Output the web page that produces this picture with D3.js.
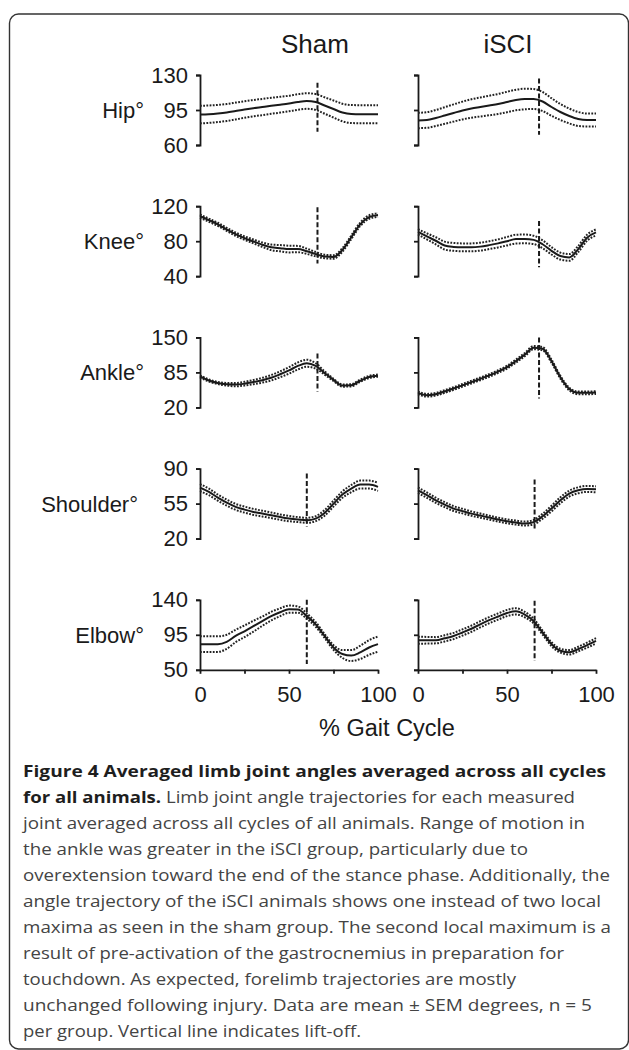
<!DOCTYPE html>
<html><head><meta charset="utf-8">
<script src="https://cdn.jsdelivr.net/npm/d3@7"></script>
<style>
html,body{margin:0;padding:0;background:#fff;}
svg{display:block;}
</style></head><body>
<svg id="chart" width="629" height="1050"></svg>
<script>
// ---------------- DATA ----------------
const gaitPct = [0,5,10,15,20,25,30,35,40,45,50,55,60,65,70,75,80,85,90,95,100];
const groups = ["Sham","iSCI"];
const joints = ["Hip°","Knee°","Ankle°","Shoulder°","Elbow°"];
const jointTicks = [[60,95,130],[40,80,120],[20,85,150],[20,55,90],[50,95,140]];
const xTicks = [0,25,50,75,100];
const xTickLabels = ["0","","50","","100"];
const xTitle = "% Gait Cycle";

const hipShamMean = [90.4,90.8,91.5,92.5,94,95.5,96.8,98,99.2,100.3,101.5,103,104,103,99.5,96,92.5,91,90.8,90.8,90.8];
const hipShamSem  = [8.8,8.7,8.6,8.5,8.4,8.3,8.2,8.1,8,7.9,7.8,7.8,7.8,7.9,8.2,8.5,8.8,9,9,9,9];
const hipSciMean  = [84.5,85,87,89.5,92,94.5,96.5,98,99.5,101,103,105,106,106,103.5,98,93,89,86,85,85];
const hipSciSem   = [7.7,7.8,8,8.3,8.6,8.9,9.2,9.5,9.8,10,10.2,10.3,10.3,10,9.5,8.8,8,7.4,7,6.5,6.5];

const kneeShamMean = [108.7,104,99.3,93.5,88,83.5,79.8,76,73,72,71,71,68.5,65.2,62.5,62,70,84.5,99.3,107.6,110];
const kneeShamSem  = [1.8,1.8,1.8,1.8,1.9,2,2.2,2.6,3.2,3.6,3.8,3.6,3,2.5,2,2,2,2,2,2,2];
const kneeSciMean  = [90.7,85.5,80.5,75,73.5,73,73,73.8,75.5,77.5,80,82.4,82.6,81.5,76.5,69,63,61.5,71,84,90];
const kneeSciSem   = [3,3.5,4,4.5,4.5,4.5,4.5,4.5,4.5,4.6,4.8,5,5,4.8,4.5,4.2,4,3.8,3.6,3.5,3.5];

const ankleShamMean = [77.6,70,65.3,63,62.3,64,67,70.5,75,81.5,88.7,97,102,97,84,71,60.5,61,69.5,76.5,79];
const ankleShamSem  = [2,2,2,2.5,3,3.5,4,4.5,5,5.5,6,6.5,6.5,5,3,2,2,2,2,2,2];
const ankleSciMean  = [46.9,42.6,44.5,49.5,55,61,67,73,79.4,86.5,94.8,106,118,131,129,106,76,54,47,47,47.5];
const ankleSciSem   = [2.5,2.5,2.5,2.5,2.5,2.5,2.5,2.5,2.5,2.5,2.6,2.8,3,3,3,2.8,2.6,2.5,2.5,2.5,2.5];

const shoulderShamMean = [71,66.7,61,56,51.7,49,46.7,45,43.3,41.5,40,39,38.3,40,45.7,55,64,70,74,74,71.7];
const shoulderShamSem  = [3.5,3.3,3.1,3,3,3,3,2.9,2.8,2.7,2.6,2.5,2.5,2.5,2.8,3,3.2,3.6,4,4,4];
const shoulderSciMean  = [68.3,63.5,58.3,54,50,47.5,45,43,41,39,37.3,36,35,36.5,42.3,50,58.3,65,68.3,69.7,69.3];
const shoulderSciSem   = [2.8,2.7,2.6,2.5,2.4,2.3,2.2,2.1,2,2,2,2,2,2.2,2.5,2.8,3,3,3,3,3];

const elbowShamMean = [83,83,83,86,93.5,99.5,106,112.5,119,124,128,127.5,119,108.3,93.5,78.7,70.3,68.3,72.4,78.7,83];
const elbowShamSem  = [10,10,10,9,8,7.5,7,6,5.5,5,4.6,4,3.5,3,2.5,3,5,7,8.5,9.5,9.7];
const elbowSciMean  = [88,88,88,90.5,93.5,98,102.8,108.5,113.8,118.5,123,125.2,121,112.5,97.8,83,74.5,72.5,76.6,81.7,87.2];
const elbowSciSem   = [4.5,4.3,4,4,4,4,4,4,4,4,4,4,3.5,3,2.5,2.5,2.5,2.8,3,3.2,3.5];

// lift-off (% gait cycle) and vertical extent of the marker (degrees)
const liftOffSham = [66,66,66,60,60];
const liftOffSci  = [68,68,68,65.5,65.5];
const liftOffShamSpan = [[73.3,122.3],[54.6,118.9],[49.7,120.3],[32,85],[57.6,140]];
const liftOffSciSpan  = [[70.2,126.4],[50.1,103.1],[36.7,150],[30,79],[61.4,138.7]];

const captionLines = [
  [["Figure 4 Averaged limb joint angles averaged across all cycles", true]],
  [["for all animals.", true], [" Limb joint angle trajectories for each measured", false]],
  [["joint averaged across all cycles of all animals. Range of motion in", false]],
  [["the ankle was greater in the iSCI group, particularly due to", false]],
  [["overextension toward the end of the stance phase. Additionally, the", false]],
  [["angle trajectory of the iSCI animals shows one instead of two local", false]],
  [["maxima as seen in the sham group. The second local maximum is a", false]],
  [["result of pre-activation of the gastrocnemius in preparation for", false]],
  [["touchdown. As expected, forelimb trajectories are mostly", false]],
  [["unchanged following injury. Data are mean \u00b1 SEM degrees, n = 5", false]],
  [["per group. Vertical line indicates lift-off.", false]]
];

// ---------------- LAYOUT ----------------
const panelX = [200, 418];
const panelW = 178;
const rowTop0 = 75, rowStep = 131.2, rowH = 70;
const titleX = [315, 508];
const captionX = 23, captionY0 = 777, captionStep = 26;
const captionRight = [606, 575, 585, 528, 610, 601, 611, 564, 516, 592, 361];
const chartFont = "'Liberation Sans', Arial, sans-serif";
const ink = "#1a1a1a";

const series = [
  [[hipShamMean, hipShamSem], [hipSciMean, hipSciSem]],
  [[kneeShamMean, kneeShamSem], [kneeSciMean, kneeSciSem]],
  [[ankleShamMean, ankleShamSem], [ankleSciMean, ankleSciSem]],
  [[shoulderShamMean, shoulderShamSem], [shoulderSciMean, shoulderSciSem]],
  [[elbowShamMean, elbowShamSem], [elbowSciMean, elbowSciSem]]
];
const liftOff = [liftOffSham, liftOffSci];
const liftSpan = [liftOffShamSpan, liftOffSciSpan];

const svg = d3.select("#chart");

// border
svg.append("rect")
  .attr("x", 9.5).attr("y", 14).attr("width", 619).attr("height", 1035)
  .attr("rx", 9).attr("ry", 9)
  .attr("fill", "none").attr("stroke", "#333").attr("stroke-width", 1.4);

// column titles
groups.forEach((g, gi) => {
  svg.append("text").attr("x", titleX[gi]).attr("y", 53)
    .attr("text-anchor", "middle").attr("font-family", chartFont)
    .attr("font-size", 26).attr("fill", ink).text(g);
});

joints.forEach((jn, ji) => {
  const top = rowTop0 + rowStep * ji;
  const ticks = jointTicks[ji];
  const yDom = [d3.min(ticks), d3.max(ticks)];

  // row label
  svg.append("text").attr("x", ji === 3 ? 138 : 144)
    .attr("y", top + rowH / 2).attr("dy", "0.36em")
    .attr("text-anchor", "end").attr("font-family", chartFont)
    .attr("font-size", 22).attr("fill", ink).text(jn);

  groups.forEach((gn, gi) => {
    const x = d3.scaleLinear().domain([0, 100]).range([panelX[gi], panelX[gi] + panelW]);
    const y = d3.scaleLinear().domain(yDom).range([top + rowH, top]);
    const [mean, sem] = series[ji][gi];
    const pts = gaitPct.map((p, k) => ({p, m: mean[k], s: sem[k]}));

    // y axis
    const ax = d3.axisLeft(y).tickValues(ticks).tickSize(4).tickPadding(8)
      .tickFormat(gi === 0 ? d3.format("d") : () => "");
    const ag = svg.append("g").attr("transform", `translate(${panelX[gi]},0)`).call(ax);
    ag.selectAll("path,line").attr("stroke", ink).attr("stroke-width", 1.8);
    ag.selectAll("text").attr("font-family", chartFont).attr("font-size", 22).attr("fill", ink);

    // x axis for last row
    if (ji === joints.length - 1) {
      const xa = d3.axisBottom(x).tickValues(xTicks).tickSize(4).tickSizeOuter(0).tickPadding(13)
        .tickFormat((d, i) => xTickLabels[i]);
      const xg = svg.append("g").attr("transform", `translate(0,${top + rowH})`).call(xa);
      xg.selectAll("path,line").attr("stroke", ink).attr("stroke-width", 1.8);
      xg.selectAll("text").attr("font-family", chartFont).attr("font-size", 22).attr("fill", ink);
    }

    const curve = d3.curveMonotoneX;
    const lineMean = d3.line().x(d => x(d.p)).y(d => y(d.m)).curve(curve);
    const lineUp = d3.line().x(d => x(d.p)).y(d => y(d.m + d.s)).curve(curve);
    const lineLo = d3.line().x(d => x(d.p)).y(d => y(d.m - d.s)).curve(curve);

    [lineUp, lineLo].forEach(fn => {
      svg.append("path").datum(pts).attr("d", fn)
        .attr("fill", "none").attr("stroke", "#222").attr("stroke-width", 2)
        .attr("stroke-dasharray", "1.8,1.4");
    });
    svg.append("path").datum(pts).attr("d", lineMean)
      .attr("fill", "none").attr("stroke", ink).attr("stroke-width", 2);

    // lift-off marker
    const lo = liftOff[gi][ji];
    const sp = liftSpan[gi][ji];
    svg.append("line")
      .attr("x1", x(lo)).attr("x2", x(lo))
      .attr("y1", y(sp[1])).attr("y2", y(sp[0]))
      .attr("stroke", ink).attr("stroke-width", 2).attr("stroke-dasharray", "5,2.5");
  });
});

// x axis title
svg.append("text").attr("x", 387).attr("y", 736)
  .attr("text-anchor", "middle").attr("font-family", chartFont)
  .attr("font-size", 23.5).attr("fill", ink).text(xTitle);

// caption
captionLines.forEach((parts, li) => {
  const t = svg.append("text")
    .attr("x", captionX).attr("y", captionY0 + captionStep * li)
    .attr("font-family", "'Open Sans', 'Noto Sans', sans-serif")
    .attr("font-size", 16.5)
    .attr("textLength", captionRight[li] - captionX)
    .attr("lengthAdjust", "spacingAndGlyphs");
  parts.forEach(([txt, bold]) => {
    t.append("tspan").text(txt)
      .attr("font-weight", bold ? 700 : 400)
      .attr("fill", bold ? "#1e1e1e" : "#444");
  });
});
</script>
</body></html>
